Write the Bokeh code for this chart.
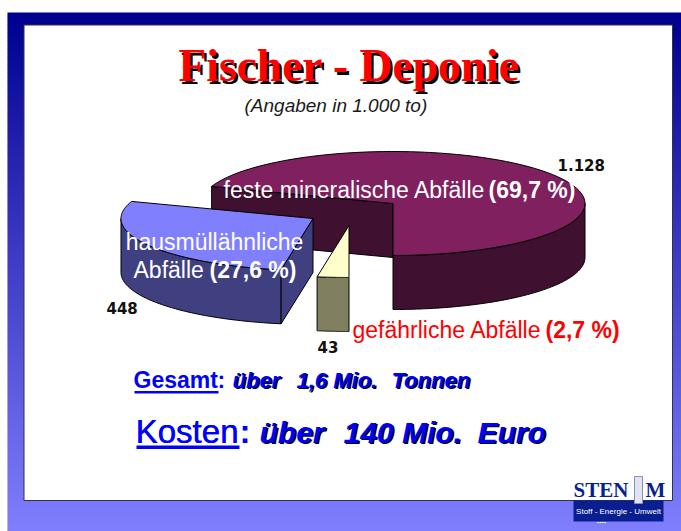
import numpy as np
from bokeh.plotting import figure
from bokeh.models import Range1d
from bokeh.core.properties import value
from bokeh.embed import file_html
from bokeh.resources import INLINE

# data
categories = ["feste mineralische Abfälle", "hausmüllähnliche Abfälle", "gefährliche Abfälle"]
tonnes = [1128, 448, 43]
tonne_labels = ["1.128", "448", "43"]
title = "Fischer - Deponie"
subtitle = "(Angaben in 1.000 to)"

W, H = 681, 531
p = figure(width=W, height=H, output_backend="svg", toolbar_location=None,
           x_range=Range1d(0, W), y_range=Range1d(H, 0),
           min_border=0, min_border_left=0, min_border_right=0, min_border_top=0, min_border_bottom=0)
p.axis.visible = False
p.grid.visible = False
p.outline_line_color = None
p.background_fill_color = "white"
p.border_fill_color = "white"

# slide background
ys = np.arange(12, 532, 2)
t = (ys - 12) / (531 - 12)
cols = ["#%02x%02x%02x" % (int(128 * a), int(128 * a), int(144 + 111 * a)) for a in t]
p.quad(left=7, right=682, top=ys, bottom=ys + 2.5, fill_color=cols, line_color=None)
p.quad(left=[23.5], right=[672], top=[24.5], bottom=[500], fill_color="white", line_color="#333344", line_width=1)

def txt(x, y, s, size, color, font="Liberation Sans", style="normal", align="left"):
    p.text([x - 1], [y - 0.37 * size], text=[s], text_font=value(font), text_font_size=f"{size}px", text_font_style=style,
           text_color=color, text_align=align, text_baseline="alphabetic")

def shadow(x, y, s, size, color, off, font="Liberation Sans", style="bold italic", align="left"):
    txt(x + off, y + off, s, size, "#000000", font, style, align)
    txt(x, y, s, size, color, font, style, align)

# pie geometry
A, B, DEPTH = 192, 52, 54
sweeps = np.array(tonnes) / sum(tonnes) * 360
start = -90.0
s0 = start; e0 = s0 + sweeps[0]
s1 = e0; e1 = s1 + sweeps[1]
s2 = e1; e2 = s2 + sweeps[2]

def pt(c, deg):
    r = np.radians(deg)
    return c[0] + A * np.cos(r), c[1] - B * np.sin(r)

def arc(c, a, b):
    r = np.radians(np.linspace(a, b, 90))
    return c[0] + A * np.cos(r), c[1] - B * np.sin(r)

def poly(x, y, color):
    p.patch(list(x), list(y), fill_color=color, line_color="#000000", line_width=1, line_join="round")

def top(c, a, b, color):
    x, y = arc(c, a, b)
    poly(np.r_[c[0], x], np.r_[c[1], y], color)

def outer(c, a, b, color):
    x, y = arc(c, a, b)
    poly(np.r_[x, x[::-1]], np.r_[y, y[::-1] + DEPTH], color)

def cut(c, a, color):
    x, y = pt(c, a)
    poly([c[0], x, x, c[0]], [c[1], y, y + DEPTH, c[1] + DEPTH], color)

c0, c1, c2 = (392.5, 203), (312.5, 218), (348.5, 225)
# big slice
cut(c0, e0, "#3f102f")
outer(c0, s0, 0, "#3f102f")
top(c0, s0, e0, "#80205e")
# household slice
outer(c1, 180, e1, "#404080")
cut(c1, e1, "#404080")
top(c1, s1, e1, "#8080ff")
# hazardous slice
outer(c2, s2, e2, "#808060")
top(c2, s2, e2, "#ffffcc")

# title
shadow(179, 82, title, 45.5, "#ff0000", 2.5, "Liberation Serif", "bold")
txt(245, 112, subtitle, 19, "#1a1a1a", style="italic")

# slice labels
txt(224, 198, "feste mineralische Abfälle", 23, "white")
txt(489, 198, "(69,7 %)", 23, "white", style="bold")
txt(215, 250, "hausmüllähnliche", 23, "white", align="center")
txt(134, 278, "Abfälle", 23, "white")
txt(210, 278, "(27,6 %)", 23, "white", style="bold")
txt(353, 338, "gefährliche Abfälle", 23, "#ff0000")
txt(546, 338, "(2,7 %)", 23, "#ff0000", style="bold")

# value labels
bf = "DejaVu Sans"
txt(558, 170, tonne_labels[0], 15, "#111111", bf, "bold")
txt(107, 313, tonne_labels[1], 15, "#111111", bf, "bold")
txt(318, 352, tonne_labels[2], 15, "#111111", bf, "bold")

# totals
blue = "#0000ff"
txt(134, 388, "Gesamt", 23, blue, style="bold")
txt(218, 388, ":", 23, blue, style="bold")
p.quad(left=[134], right=[218], top=[390.5], bottom=[393], fill_color=blue, line_color=None)
for x, s in [(233, "über"), (297, "1,6 Mio."), (392, "Tonnen")]:
    shadow(x, 388, s, 22, blue, 1.5)
txt(136, 443, "Kosten", 33, blue)
txt(136.5, 443, "Kosten", 33, blue)
txt(240, 443, ":", 33, blue, style="bold")
p.quad(left=[136], right=[239], top=[445], bottom=[448.5], fill_color=blue, line_color=None)
for x, s in [(260, "über"), (344, "140 Mio."), (478, "Euro")]:
    shadow(x, 443, s, 30, blue, 1.5)

# logo
navy = "#0a1f8f"
txt(574, 497, "STEN", 21, navy, "Liberation Serif", "bold")
txt(646, 497, "M", 21, navy, "Liberation Serif", "bold")
p.quad(left=[573], right=[663], top=[500], bottom=[521], fill_color=navy, line_color=None)
p.quad(left=[634], right=[642], top=[476], bottom=[503], fill_color="#dfe3f5", line_color="#8a90b0", line_width=1)
txt(619, 514, "Stoff - Energie - Umwelt", 8, "white", align="center")
txt(602, 524, "----", 7, "white", style="bold", align="center")

open("out.html", "w").write(file_html(p, INLINE))
